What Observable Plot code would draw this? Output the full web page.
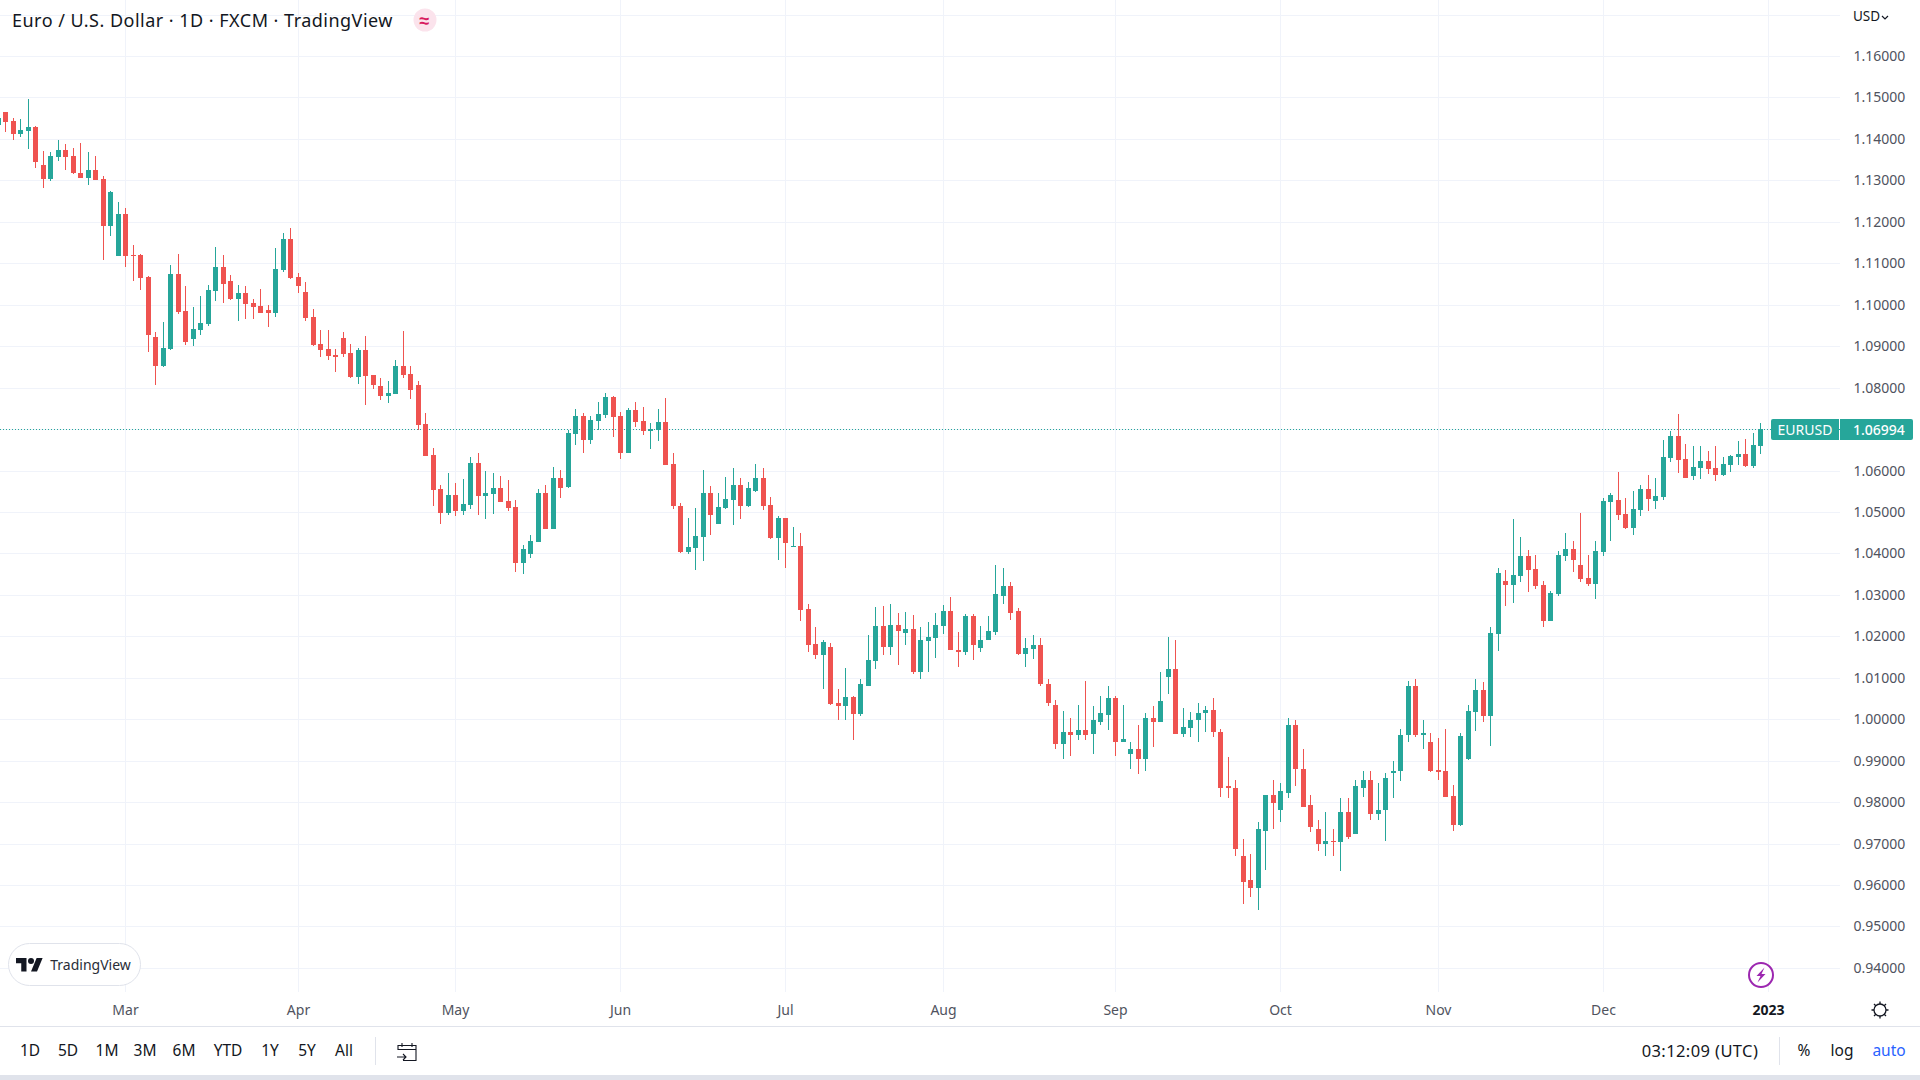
<!DOCTYPE html>
<html>
<head>
<meta charset="utf-8">
<script src="https://cdn.jsdelivr.net/npm/d3@7"></script>
<script src="https://cdn.jsdelivr.net/npm/@observablehq/plot@0.6"></script>
<style>
  html,body{margin:0;padding:0;background:#fff;width:1920px;height:1080px;overflow:hidden;font-family:"Noto Sans",sans-serif;color:#131722}
  #page{position:relative;width:1920px;height:1080px}
  #chart svg{display:block}
  .a{position:absolute;white-space:nowrap;line-height:1}
  .c{transform:translate(-50%,-50%)}
  .t{font-size:15.5px}
</style>
</head>
<body>
<div id="page">
  <div id="chart"></div>
  <div class="a" id="title" style="left:12px;top:10px;font-size:18px;letter-spacing:.48px;line-height:20px">Euro / U.S. Dollar · 1D · FXCM · TradingView</div>
  <div class="a c" style="left:424.5px;top:20px;width:23px;height:23px;border-radius:50%;background:#fbe3ec;color:#d81b60;font-size:18px;line-height:23px;text-align:center;font-weight:700;transform:translate(-50%,-50%)">≈</div>
  <div class="a" style="left:1853px;top:10px;font-size:13.5px;">USD</div>
  <svg class="a" style="left:1881px;top:15px" width="8" height="6" viewBox="0 0 8 6"><path d="M1 1l3 3 3-3" fill="none" stroke="#131722" stroke-width="1.2"/></svg>

  <div class="a" style="left:1771px;top:419px;width:68px;height:21px;background:#26a69a;border-radius:2px 0 0 2px;color:#fff;font-size:14px;line-height:21px;text-align:center">EURUSD</div>
  <div class="a" style="left:1840px;top:419px;width:73px;height:21px;background:#26a69a;border-radius:0 2px 2px 0;color:#fff;font-size:14px;line-height:21px;padding-left:13px;box-sizing:border-box;font-weight:500">1.06994</div>

  <div class="a" style="left:8px;top:943px;width:131px;height:41px;border:1px solid #e0e3eb;border-radius:22px;background:#fff"></div>
  <svg class="a" style="left:16px;top:955px" width="27" height="21" viewBox="0 0 36 28"><path d="M14 22H7V11H0V4h14v18zM28 22h-8l7.5-18h8L28 22z" fill="#131722"/><circle cx="20" cy="8" r="4" fill="#131722"/></svg>
  <div class="a c" style="left:90.5px;top:965px;font-size:14px;color:#2a2e39;transform:translate(-50%,-50%)">TradingView</div>

  <svg class="a" style="left:1747px;top:961px" width="28" height="28" viewBox="0 0 28 28"><circle cx="14" cy="14" r="12" fill="#fff" stroke="#9c27b0" stroke-width="2"/><path d="M17.5 6.5l-8 8.5h4l-3 6.5 8-8.5h-4z" fill="#9c27b0"/></svg>
  <svg class="a" style="left:1870px;top:1000px" width="20" height="20" viewBox="0 0 20 20"><circle cx="10" cy="10" r="6" fill="none" stroke="#131722" stroke-width="1.3"/><path d="M10 1.5v2.5M10 16v2.5M1.5 10h2.5M16 10h2.5M4 4l1.8 1.8M14.2 14.2L16 16M4 16l1.8-1.8M14.2 5.8L16 4" stroke="#131722" stroke-width="1.3"/></svg>

  <div class="a" style="left:0;top:1026px;width:1920px;height:1px;background:#e0e3eb"></div>
  <div class="a c t" style="left:30px;top:1051px;">1D</div>
  <div class="a c t" style="left:68px;top:1051px;">5D</div>
  <div class="a c t" style="left:107px;top:1051px;">1M</div>
  <div class="a c t" style="left:145px;top:1051px;">3M</div>
  <div class="a c t" style="left:184px;top:1051px;">6M</div>
  <div class="a c t" style="left:228px;top:1051px;">YTD</div>
  <div class="a c t" style="left:270px;top:1051px;">1Y</div>
  <div class="a c t" style="left:307px;top:1051px;">5Y</div>
  <div class="a c t" style="left:344px;top:1051px;">All</div>
  <div class="a" style="left:375px;top:1037px;width:1px;height:28px;background:#e0e3eb"></div>
  <svg class="a" style="left:396px;top:1040px" width="22" height="22" viewBox="0 0 22 22"><path d="M2 10V5.5h18V20.5H7M2 9.5h18M6 3v4M16 3v4M1 17h9M7 14l3 3-3 3" fill="none" stroke="#131722" stroke-width="1.1"/></svg>
  <div class="a c" style="left:1700px;top:1051px;font-size:16.5px;letter-spacing:.4px">03:12:09 (UTC)</div>
  <div class="a" style="left:1779px;top:1037px;width:1px;height:28px;background:#e0e3eb"></div>
  <div class="a c" style="left:1804px;top:1051px;font-size:15.5px">%</div>
  <div class="a c" style="left:1842px;top:1051px;font-size:15.5px">log</div>
  <div class="a c" style="left:1889px;top:1051px;font-size:15.5px;color:#2962ff">auto</div>
  <div class="a" style="left:0;top:1075px;width:1920px;height:5px;background:#e0e3eb"></div>
</div>
<script>
const opens = [
1.1433,1.1465,1.1443,1.1412,1.1419,1.1428,1.1337,1.1303,1.1356,1.1373,
1.1359,1.1318,1.1305,1.1325,1.1303,1.1190,1.1117,1.1219,1.1120,1.1120,
1.1067,1.0922,1.0852,1.0893,1.1074,1.0985,1.0917,1.0939,1.0953,1.1033,
1.1091,1.1057,1.1014,1.1028,1.1004,1.0997,1.0987,1.0980,1.1084,1.1158,
1.1067,1.1031,1.0970,1.0905,1.0893,1.0879,1.0920,1.0883,1.0825,1.0891,
1.0830,1.0804,1.0780,1.0784,1.0852,1.0833,1.0806,1.0712,1.0637,1.0555,
1.0497,1.0541,1.0502,1.0516,1.0618,1.0538,1.0543,1.0557,1.0526,1.0512,
1.0377,1.0399,1.0428,1.0546,1.0459,1.0582,1.0561,1.0688,1.0732,1.0674,
1.0720,1.0734,1.0778,1.0732,1.0643,1.0746,1.0720,1.0696,1.0698,1.0717,
1.0616,1.0515,1.0404,1.0413,1.0440,1.0546,1.0471,1.0510,1.0529,1.0565,
1.0515,1.0551,1.0582,1.0517,1.0437,1.0486,1.0416,1.0418,1.0266,1.0182,
1.0155,1.0175,1.0038,1.0031,1.0053,1.0012,1.0081,1.0141,1.0225,1.0175,
1.0228,1.0208,1.0218,1.0114,1.0189,1.0196,1.0225,1.0262,1.0168,1.0163,
1.0248,1.0173,1.0190,1.0211,1.0298,1.0322,1.0260,1.0158,1.0170,1.0180,
1.0086,1.0035,0.9941,0.9970,0.9963,0.9975,0.9965,0.9994,1.0011,1.0052,
0.9944,0.9917,0.9929,0.9903,1.0004,0.9994,1.0103,1.0122,0.9965,0.9980,
0.9997,1.0014,1.0023,0.9970,0.9838,0.9835,0.9669,0.9611,0.9592,0.9731,
0.9818,0.9782,0.9823,0.9987,0.9881,0.9792,0.9736,0.9698,0.9707,0.9703,
0.9777,0.9724,0.9835,0.9854,0.9772,0.9780,0.9871,0.9874,0.9961,1.0081,
0.9962,0.9945,0.9878,0.9875,0.9815,0.9745,0.9904,1.0018,1.0071,1.0008,
1.0206,1.0334,1.0324,1.0346,1.0394,1.0363,1.0324,1.0237,1.0302,1.0394,
1.0411,1.0372,1.0341,1.0326,1.0404,1.0524,1.0529,1.0495,1.0461,1.0505,
1.0556,1.0527,1.0536,1.0630,1.0683,1.0628,1.0587,1.0606,1.0623,1.0606,
1.0589,1.0613,1.0633,1.0640,1.0611,1.0659];
const highs = [
1.1450,1.1465,1.1450,1.1448,1.1496,1.1431,1.1371,1.1368,1.1397,1.1387,
1.1378,1.1390,1.1368,1.1359,1.1310,1.1274,1.1248,1.1233,1.1144,1.1122,
1.1069,1.0934,1.0958,1.1096,1.1122,1.1045,1.0994,1.1021,1.1047,1.1139,
1.1120,1.1071,1.1047,1.1045,1.1014,1.1038,1.0999,1.1137,1.1173,1.1185,
1.1076,1.1055,1.0990,1.0939,1.0939,1.0893,1.0934,1.0905,1.0895,1.0924,
1.0830,1.0823,1.0816,1.0866,1.0936,1.0852,1.0816,1.0738,1.0654,1.0565,
1.0594,1.0569,1.0579,1.0632,1.0642,1.0598,1.0594,1.0586,1.0577,1.0529,
1.0421,1.0445,1.0556,1.0565,1.0609,1.0602,1.0698,1.0749,1.0739,1.0732,
1.0766,1.0787,1.0780,1.0741,1.0751,1.0766,1.0753,1.0715,1.0749,1.0775,
1.0643,1.0522,1.0486,1.0510,1.0602,1.0563,1.0546,1.0585,1.0606,1.0582,
1.0573,1.0616,1.0606,1.0536,1.0491,1.0486,1.0464,1.0450,1.0278,1.0223,
1.0192,1.0184,1.0074,1.0123,1.0057,1.0098,1.0204,1.0271,1.0274,1.0278,
1.0257,1.0259,1.0252,1.0223,1.0235,1.0257,1.0276,1.0296,1.0211,1.0255,
1.0255,1.0224,1.0250,1.0371,1.0366,1.0330,1.0269,1.0197,1.0204,1.0195,
1.0098,1.0047,1.0021,1.0002,1.0035,1.0091,1.0031,1.0057,1.0081,1.0057,
1.0035,0.9946,0.9987,1.0014,1.0031,1.0115,1.0199,1.0190,1.0026,1.0018,
1.0038,1.0031,1.0052,0.9977,0.9910,0.9854,0.9712,0.9674,0.9753,0.9818,
0.9854,0.9847,1.0002,0.9997,0.9929,0.9818,0.9756,0.9777,0.9736,0.9809,
0.9811,0.9854,0.9876,0.9874,0.9847,0.9871,0.9900,0.9977,1.0091,1.0096,
0.9998,0.9967,0.9955,0.9977,0.9842,0.9967,1.0035,1.0097,1.0090,1.0223,
1.0365,1.0360,1.0483,1.0440,1.0408,1.0396,1.0334,1.0310,1.0406,1.0449,
1.0430,1.0498,1.0396,1.0430,1.0534,1.0546,1.0597,1.0534,1.0551,1.0565,
1.0589,1.0582,1.0674,1.0695,1.0736,1.0664,1.0659,1.0659,1.0647,1.0659,
1.0633,1.0638,1.0671,1.0676,1.0691,1.0715];
const lows = [
1.1433,1.1416,1.1397,1.1404,1.1375,1.1330,1.1281,1.1298,1.1346,1.1325,
1.1315,1.1305,1.1289,1.1301,1.1108,1.1166,1.1117,1.1091,1.1057,1.1035,
1.0886,1.0806,1.0850,1.0891,1.0977,1.0903,1.0900,1.0927,1.0948,1.1009,
1.1004,1.1011,1.0961,1.0965,1.0965,1.0980,1.0946,1.0970,1.1079,1.1062,
1.1028,1.0961,1.0900,1.0874,1.0866,1.0838,1.0874,1.0823,1.0809,1.0758,
1.0796,1.0770,1.0763,1.0784,1.0823,1.0772,1.0697,1.0635,1.0514,1.0471,
1.0492,1.0490,1.0492,1.0507,1.0492,1.0483,1.0495,1.0524,1.0502,1.0355,
1.0351,1.0389,1.0428,1.0459,1.0459,1.0534,1.0558,1.0662,1.0643,1.0664,
1.0698,1.0727,1.0681,1.0628,1.0643,1.0705,1.0686,1.0652,1.0671,1.0614,
1.0507,1.0401,1.0399,1.0360,1.0382,1.0445,1.0471,1.0507,1.0469,1.0483,
1.0512,1.0548,1.0505,1.0435,1.0384,1.0365,1.0416,1.0237,1.0163,1.0146,
1.0073,1.0035,0.9999,0.9997,0.9951,1.0007,1.0081,1.0122,1.0155,1.0155,
1.0131,1.0179,1.0110,1.0097,1.0114,1.0148,1.0206,1.0166,1.0125,1.0156,
1.0144,1.0161,1.0190,1.0204,1.0277,1.0240,1.0156,1.0125,1.0146,1.0081,
1.0033,0.9927,0.9903,0.9912,0.9951,0.9949,0.9915,0.9985,0.9973,0.9912,
0.9944,0.9879,0.9867,0.9876,0.9932,0.9994,1.0062,0.9965,0.9956,0.9958,
0.9946,0.9968,0.9956,0.9813,0.9809,0.9669,0.9555,0.9570,0.9539,0.9637,
0.9736,0.9753,0.9809,0.9838,0.9789,0.9729,0.9683,0.9671,0.9669,0.9633,
0.9710,0.9722,0.9813,0.9758,0.9756,0.9707,0.9809,0.9850,0.9946,0.9958,
0.9928,0.9873,0.9854,0.9813,0.9731,0.9743,0.9902,0.9972,0.9994,0.9936,
1.0165,1.0273,1.0281,1.0331,1.0307,1.0314,1.0223,1.0237,1.0297,1.0382,
1.0355,1.0331,1.0322,1.0290,1.0394,1.0430,1.0481,1.0459,1.0445,1.0490,
1.0503,1.0507,1.0529,1.0621,1.0594,1.0582,1.0577,1.0580,1.0592,1.0575,
1.0587,1.0597,1.0613,1.0609,1.0606,1.0640];
const closes = [
1.1450,1.1441,1.1412,1.1421,1.1428,1.1344,1.1303,1.1359,1.1373,1.1356,
1.1318,1.1305,1.1325,1.1301,1.1190,1.1272,1.1219,1.1117,1.1117,1.1064,
1.0927,1.0852,1.0895,1.1074,1.0982,1.0910,1.0941,1.0956,1.1035,1.1091,
1.1050,1.1014,1.1028,1.1002,1.0994,1.0980,1.0980,1.1086,1.1158,1.1064,
1.1045,1.0968,1.0903,1.0891,1.0876,1.0874,1.0881,1.0825,1.0891,1.0828,
1.0806,1.0780,1.0787,1.0852,1.0830,1.0794,1.0709,1.0635,1.0553,1.0497,
1.0541,1.0502,1.0519,1.0618,1.0538,1.0545,1.0557,1.0524,1.0509,1.0377,
1.0411,1.0430,1.0546,1.0459,1.0582,1.0558,1.0691,1.0732,1.0674,1.0722,
1.0737,1.0778,1.0729,1.0643,1.0746,1.0717,1.0696,1.0700,1.0717,1.0614,
1.0515,1.0404,1.0416,1.0442,1.0546,1.0493,1.0512,1.0532,1.0565,1.0515,
1.0558,1.0582,1.0515,1.0437,1.0486,1.0425,1.0418,1.0264,1.0179,1.0155,
1.0187,1.0037,1.0031,1.0053,1.0012,1.0086,1.0143,1.0225,1.0175,1.0228,
1.0213,1.0218,1.0114,1.0192,1.0199,1.0228,1.0261,1.0166,1.0163,1.0248,
1.0180,1.0192,1.0214,1.0301,1.0322,1.0257,1.0158,1.0173,1.0180,1.0084,
1.0038,0.9941,0.9970,0.9963,0.9975,0.9963,0.9997,1.0014,1.0052,0.9944,
0.9953,0.9929,0.9903,1.0004,0.9994,1.0045,1.0122,0.9965,0.9982,0.9999,
1.0014,1.0023,0.9968,0.9835,0.9833,0.9686,0.9608,0.9592,0.9734,0.9818,
0.9799,0.9826,0.9987,0.9879,0.9789,0.9739,0.9698,0.9707,0.9703,0.9777,
0.9717,0.9838,0.9854,0.9772,0.9782,0.9859,0.9876,0.9963,1.0081,0.9963,
0.9967,0.9875,0.9873,0.9813,0.9745,0.9960,1.0020,1.0071,1.0008,1.0208,
1.0353,1.0324,1.0348,1.0394,1.0360,1.0322,1.0237,1.0305,1.0396,1.0411,
1.0384,1.0338,1.0326,1.0406,1.0527,1.0541,1.0493,1.0461,1.0507,1.0556,
1.0531,1.0539,1.0633,1.0683,1.0626,1.0582,1.0609,1.0623,1.0604,1.0589,
1.0616,1.0635,1.0640,1.0611,1.0662,1.0699];

const monthBars = [17,40,61,83,105,126,149,171,192,214];
const monthLabels = ["Mar","Apr","May","Jun","Jul","Aug","Sep","Oct","Nov","Dec"];
const yearBar = [236];
const yearLabel = "2023";
const priceTicks = [0.94,0.95,0.96,0.97,0.98,0.99,1.00,1.01,1.02,1.03,1.04,1.05,1.06,1.07,1.08,1.09,1.10,1.11,1.12,1.13,1.14,1.15,1.16];
const priceGrid = [...priceTicks, 1.17];
const lastPrice = 1.06994;
const upColor = "#26a69a", downColor = "#ef5350", gridColor = "#f0f3fa";

const bars = opens.map((o,i)=>({i, open:o, high:highs[i], low:lows[i], close:closes[i]}));
const col = d => d.close >= d.open ? upColor : downColor;
const axisFont = "Noto Sans";

const plot = Plot.plot({
  width:1920, height:1027,
  marginTop:0, marginLeft:0, marginRight:80, marginBottom:35,
  style:{background:"#fff", fontFamily:axisFont, color:"#131722"},
  x:{type:"linear", domain:[0.2933,245.627], round:true},
  y:{type:"linear", domain:[0.93419,1.17351], round:true},
  color:{type:"identity"},
  marks:[
    Plot.gridY(priceGrid,{stroke:gridColor,strokeOpacity:1}),
    Plot.gridX([...monthBars,...yearBar],{stroke:gridColor,strokeOpacity:1}),
    Plot.ruleY([lastPrice],{stroke:upColor,strokeDasharray:"1,2",strokeWidth:1}),
    Plot.ruleX(bars,{x:"i",y1:"low",y2:"high",stroke:col,strokeWidth:1}),
    Plot.ruleX(bars,{x:"i",y1:"open",y2:"close",stroke:col,strokeWidth:5}),
    Plot.axisY(priceTicks,{anchor:"right",label:null,tickSize:0,tickPadding:13,tickFormat:d3.format(".5f"),fontSize:14,fill:"#50535e"}),
    Plot.axisX(monthBars,{anchor:"bottom",label:null,tickSize:0,tickPadding:13,tickFormat:d=>monthLabels[monthBars.indexOf(d)],fontSize:14,fill:"#50535e"}),
    Plot.axisX(yearBar,{anchor:"bottom",label:null,tickSize:0,tickPadding:13,tickFormat:()=>yearLabel,fontSize:14,fontWeight:"bold",fill:"#131722"})
  ]
});
document.getElementById("chart").appendChild(plot);
</script>
</body>
</html>
